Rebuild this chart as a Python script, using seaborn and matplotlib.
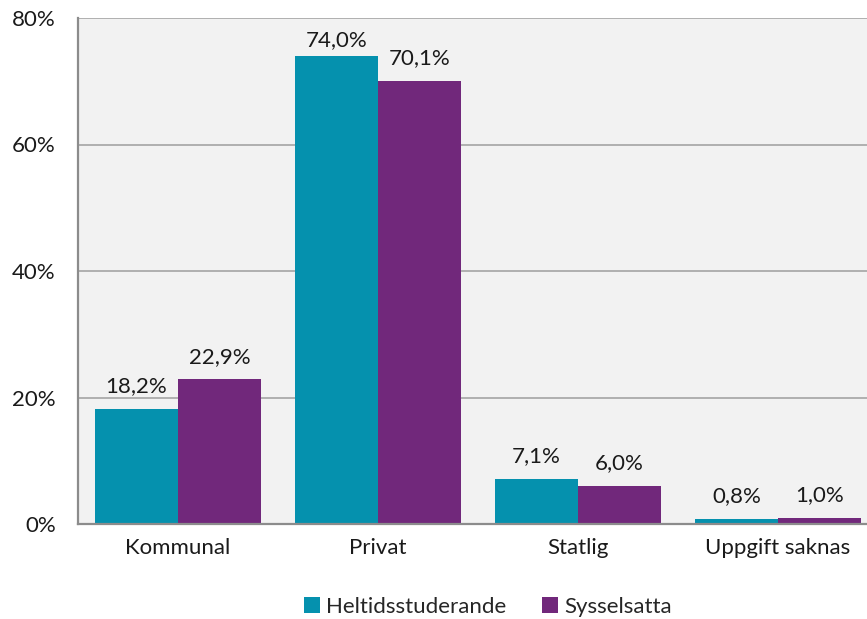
import numpy as np
import pandas as pd
import matplotlib.pyplot as plt
import seaborn as sns
from matplotlib.ticker import PercentFormatter

categories = ['Kommunal', 'Privat', 'Statlig', 'Uppgift saknas']
series = ['Heltidsstuderande', 'Sysselsatta']
heltid = [18.2, 74.0, 7.1, 0.8]
syssel = [22.9, 70.1, 6.0, 1.0]
colors = ['#0591AE', '#71287B']

df = pd.DataFrame({
    'kategori': categories * 2,
    'grupp': [series[0]] * 4 + [series[1]] * 4,
    'andel': heltid + syssel,
})

sns.set_style('white')
plt.rcParams['font.family'] = ['Lato', 'DejaVu Sans']
fs = 16

fig = plt.figure(figsize=(8.67, 6.19), dpi=100)
ax = fig.add_axes([78 / 867, 1 - 524 / 619, 800 / 867, (524 - 18) / 619])
ax.set_facecolor('#F2F2F2')

sns.barplot(data=df, x='kategori', y='andel', hue='grupp', palette=colors,
            width=0.83, saturation=1, ax=ax, legend=True, edgecolor='none')

for cont in ax.containers:
    texts = ax.bar_label(cont, labels=[f'{v:.1f}%'.replace('.', ',') for v in cont.datavalues],
                         padding=9, fontsize=fs, color='#1a1a1a')
    # top label sits closer to its bar so it stays inside the plot area
    for t, v in zip(texts, cont.datavalues):
        if v > 72:
            t.xyann = (0, 4)

ax.set_ylim(0, 80)
ax.set_xlim(-0.5, 3.5)
ax.set_yticks([0, 20, 40, 60, 80])
ax.yaxis.set_major_formatter(PercentFormatter(decimals=0))
ax.yaxis.grid(True, color='#ABABAB', linewidth=1.3)
ax.set_axisbelow(True)
ax.set_xlabel('')
ax.set_ylabel('')
for s in ['top', 'right']:
    ax.spines[s].set_visible(False)
for s in ['left', 'bottom']:
    ax.spines[s].set_color('#8C8C8C')
    ax.spines[s].set_linewidth(1.6)
ax.tick_params(axis='y', length=6, width=1.3, color='#8C8C8C', labelsize=fs, pad=10)
ax.tick_params(axis='x', length=0, labelsize=fs, pad=10)
for lbl in ax.get_xticklabels() + ax.get_yticklabels():
    lbl.set_color('#1a1a1a')

ax.legend(loc='center', bbox_to_anchor=(488 / 867, 1 - 607 / 619),
          bbox_transform=fig.transFigure, ncol=2, frameon=False, fontsize=fs,
          handlelength=0.7, handleheight=0.7, handletextpad=0.3, columnspacing=1.6)

fig.savefig('out.png', dpi=100)
